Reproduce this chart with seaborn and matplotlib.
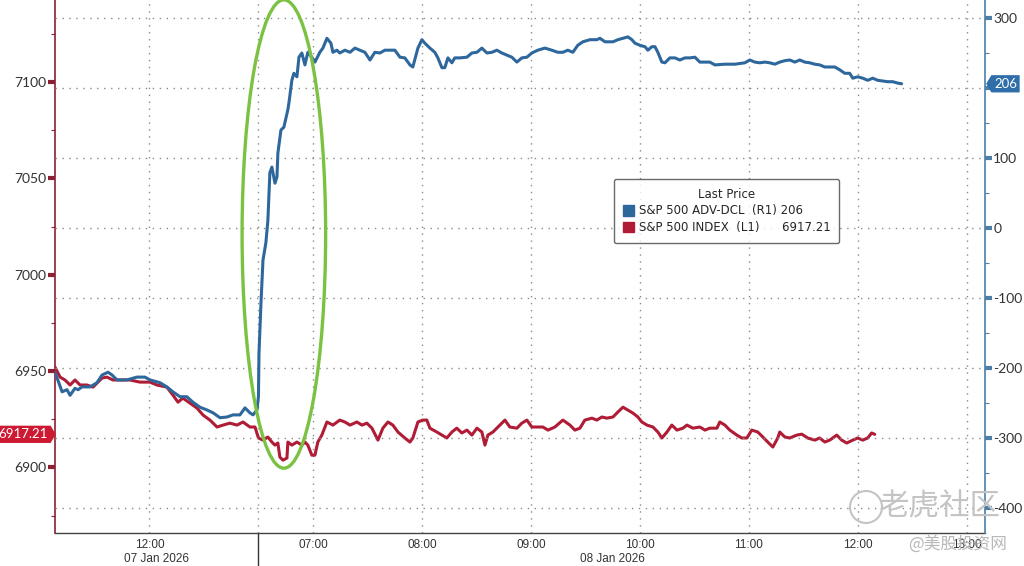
import matplotlib
matplotlib.use("Agg")
import matplotlib.pyplot as plt
import matplotlib.transforms as mtransforms
from matplotlib.patches import Ellipse, Patch
from matplotlib.path import Path
from matplotlib.ticker import FixedLocator, FixedFormatter, MultipleLocator
import pandas as pd
import seaborn as sns

# x = minutes from the overnight break (07 Jan 13:00 == 08 Jan 06:30 == 0)
ADV_MIN = [-112, -108.1, -105.4, -103.7, -101, -99.3, -97.1, -92.7, -88.9, -86.1,
           -82.8, -80.6, -77.9, -72.4, -66.9, -62.5, -59.7, -54.2, -50.4, -47.1,
           -43.2, -39.4, -36, -32.2, -28.3, -25, -21.2, -17.3, -14, -10.2,
           -7.4, -4.7, -3, -0.8,
           0, 0.3, 1.4, 2.5, 4.1, 5.2, 6.3, 7.4, 9.1, 10.2, 10.7, 12.4, 14, 16.2, 16.8,
           18.4, 19.5, 21.2, 22.3, 23.9, 25.6, 27.2, 29.4, 31.1, 33.8, 35.5, 37.7, 39.9,
           41, 43.2, 44.8, 47.6, 50.4, 53.1, 55.9, 58.6, 61.4, 64.1, 66.9, 69.6, 72.4,
           75.1, 77.9, 80.6, 83.4, 85, 87.8, 90, 91.6, 94.4, 97.1, 98.8, 101, 102.6,
           104.3, 106.5, 108.1, 110.9, 114.8, 117.5, 120.3, 123, 125.8, 128.5, 131.3,
           134, 136.8, 139.5, 142.3, 145, 147.8, 150.5, 153.8, 157.7, 161.5, 164.8,
           167.6, 170.3, 173.1, 175.8, 178.6, 182.5, 186.3, 188, 190.8, 195.2, 197.9,
           200.7, 203.4, 205.6, 207.3, 210, 212.8, 214.4, 216.6, 218.3, 219.9, 222.1,
           223.8, 226.5, 229.3, 232, 234.8, 237.5, 240.3, 243, 248.5, 251.3, 256.8,
           262.3, 267.8, 270.5, 273.3, 276, 278.8, 281.5, 284.3, 287, 289.8, 292.5,
           295.3, 298, 300.8, 303.5, 306.3, 309, 311.8, 317.3, 320, 322.8, 325.5,
           327.2, 329.9, 332.7, 335.4, 338.2, 340.9, 346.4, 349.2, 351.9, 354.1]
ADV_VAL = [-206, -234, -231, -239, -229, -231, -227, -227, -221, -210,
           -206, -210, -217, -217, -213, -213, -217, -221, -227, -234,
           -241, -241, -249, -256, -260, -264, -271, -270, -267, -267,
           -257, -264, -267, -260,
           -241, -179, -107, -46, -21, 11, 79, 87, 64, 73, 107, 140, 144, 169, 179,
           211, 221, 216, 244, 250, 233, 251, 244, 237, 251, 257, 271, 264,
           251, 254, 250, 254, 251, 257, 254, 251, 240, 251, 250, 254, 254,
           254, 244, 243, 233, 230, 257, 269, 264, 257, 251, 243, 229, 229,
           243, 236, 243, 243, 244, 250, 251, 257, 250, 251, 254,
           250, 247, 244, 237, 243, 244, 250, 254, 257, 254, 251,
           251, 254, 251, 261, 266, 269, 269, 271, 266, 266, 269,
           271, 273, 269, 264, 261, 259, 254, 259, 259, 251, 237,
           236, 243, 243, 240, 243, 243, 244, 237, 237, 233, 234,
           234, 236, 240, 237, 236, 237, 236, 234, 237, 239, 240,
           237, 240, 237, 236, 234, 233, 230, 230, 226, 221, 221,
           214, 216, 214, 211, 214, 211, 209, 209, 207, 206]

SPX_MIN = [-112, -109.2, -106.5, -103.7, -101, -98.2, -94.4, -91.1, -86.1, -83.4,
           -80.1, -76.2, -70.7, -65.2, -59.7, -55.9, -50.4, -47.1, -44.3, -41.6,
           -37.7, -33.8, -30.5, -26.7, -22.8, -19.5, -15.7, -11.8, -8.5, -4.7, -1.9,
           0, 2.5, 5.2, 7.4, 9.1, 10.7, 11.8, 13.5, 15.7, 16.2, 18.4, 21.2, 23.9, 25.6,
           27.2, 29.4, 31.1, 32.7, 34.9, 37.7, 41, 44.8, 47.6, 50.4, 54.2, 57, 59.7,
           62.5, 65.8, 68.5, 71.3, 74, 76.8, 80.6, 83.4, 85, 87.8, 90.5, 92.7, 94.4,
           98.2, 101, 103.7, 106.5, 109.2, 112, 114.8, 117.5, 120.3, 123, 124.7, 126.3,
           129.1, 132.9, 135.7, 138.4, 142.3, 145, 147.8, 150.5, 156.6, 159.4, 163.2,
           167.6, 171.5, 174.2, 177, 179.7, 183.6, 186.3, 189.1, 191.8, 195.2, 197.9,
           200.7, 203.4, 206.2, 208.9, 211.1, 213.9, 217.2, 219.9, 222.1, 224.9, 227.6,
           230.4, 233.7, 235.9, 239.2, 243, 245.8, 248.5, 252.4, 254, 256.8, 259.5,
           263.4, 266.1, 268.9, 271.6, 274.9, 277.7, 280.4, 283.2, 285.9, 287, 289.8,
           292.5, 296.4, 299.1, 302.4, 306.3, 309, 311.8, 314.5, 318.4, 321.1, 323.9,
           327.2, 329.9, 332.7, 335.4, 337.6, 339.3]
SPX_VAL = [6952.1, 6946.9, 6945.4, 6942.8, 6945.4, 6942.8, 6942.8, 6941.7, 6946.4, 6946.9,
           6945.4, 6945.4, 6945.4, 6944.3, 6944.3, 6942.8, 6941.7, 6937.6, 6933.9, 6936.0,
           6933.4, 6930.8, 6927.2, 6924.6, 6921.0, 6922.0, 6923.0, 6922.0, 6923.6, 6921.0, 6921.0,
           6915.3, 6914.2, 6915.8, 6913.2, 6911.6, 6912.7, 6905.4, 6903.8, 6904.9, 6913.2, 6911.6, 6913.2, 6911.6, 6913.2,
           6911.6, 6906.4, 6906.4, 6913.2, 6916.8, 6923.6, 6922.0, 6924.6, 6923.6, 6922.0, 6923.6, 6922.0, 6923.0,
           6920.4, 6914.2, 6920.4, 6923.6, 6922.0, 6918.4, 6915.3, 6913.2, 6915.3, 6923.6, 6924.6, 6924.6, 6920.4,
           6918.4, 6916.8, 6915.3, 6918.4, 6920.4, 6917.9, 6919.4, 6916.8, 6920.4, 6918.4, 6911.6, 6916.8,
           6918.4, 6922.0, 6924.6, 6921.0, 6920.4, 6923.0, 6924.6, 6921.0, 6921.0, 6919.4, 6921.0,
           6924.6, 6922.0, 6919.4, 6920.4, 6924.6, 6925.6, 6924.6, 6926.2, 6925.6, 6926.2, 6928.8,
           6931.3, 6929.8, 6928.2, 6926.2, 6923.6, 6922.0, 6921.0, 6918.4, 6915.3, 6918.4, 6922.0,
           6919.4, 6920.4, 6922.0, 6920.4, 6921.0, 6919.4, 6920.4, 6920.4, 6923.6, 6922.0, 6919.4,
           6916.8, 6915.3, 6915.3, 6919.4, 6918.4, 6915.8, 6913.2, 6910.6, 6915.3, 6918.4, 6915.8,
           6915.3, 6916.8, 6917.3, 6915.3, 6914.2, 6915.3, 6913.2, 6914.2, 6916.8, 6914.2, 6912.7,
           6914.2, 6915.3, 6914.2, 6915.3, 6917.9, 6917.21]

DAY1_CLOSE = "13:00"
DAY2_OPEN = "06:30"
DAY1_HOURS = ["12:00"]
DAY2_HOURS = ["07:00", "08:00", "09:00", "10:00", "11:00", "12:00", "13:00"]
DAY1_HALVES = ["11:30", "12:30"]
DAY2_HALVES = ["07:30", "08:30", "09:30", "10:30", "11:30", "12:30"]
DATE_LABELS = ["07 Jan 2026", "08 Jan 2026"]
SERIES_NAMES = ["S&P 500 ADV-DCL  (R1)", "S&P 500 INDEX  (L1)"]
LEFT_TICKS = [6900, 6950, 7000, 7050, 7100]
RIGHT_TICKS = [-400, -300, -200, -100, 0, 100, 200, 300]

BLUE = "#2d679c"
RED = "#b01c36"
RED_AX = "#8c1f33"
BLUE_AX = "#4d7fa8"
GREEN = "#7cc242"
GRID = "#8a8a8a"


def to_x(day, hhmm):
    h, m = map(int, hhmm.split(":"))
    ref = DAY1_CLOSE if day == 1 else DAY2_OPEN
    rh, rm = map(int, ref.split(":"))
    return (h * 60 + m) - (rh * 60 + rm)


def tag_style(point):
    def style(x0, y0, width, height, mutation_size):
        pad = 0.2 * mutation_size
        x0, y0 = x0 - pad, y0 - pad
        x1, y1 = x0 + width + 2 * pad, y0 + height + 2 * pad
        tip = 0.3 * (y1 - y0)
        ym = (y0 + y1) / 2
        if point == "right":
            verts = [(x0, y0), (x1, y0), (x1 + tip, ym), (x1, y1), (x0, y1), (x0, y0)]
        else:
            verts = [(x0, y0), (x1, y0), (x1, y1), (x0, y1), (x0 - tip, ym), (x0, y0)]
        return Path(verts, closed=True)
    return style


sns.set_theme(style="white")
plt.rcParams["font.family"] = ["Lato", "Noto Sans CJK SC", "DejaVu Sans"]
plt.rcParams["axes.unicode_minus"] = False

adv = pd.DataFrame({"minute": ADV_MIN, "adv_dcl": ADV_VAL})
spx = pd.DataFrame({"minute": SPX_MIN, "index": SPX_VAL})

fig = plt.figure(figsize=(10.24, 5.66), dpi=100)
ax = fig.add_axes([55 / 1024, 33 / 566, 930 / 1024, 533 / 566])

sns.lineplot(data=spx, x="minute", y="index", ax=ax, color=RED, linewidth=2.2,
             estimator=None, sort=False, legend=False, zorder=3)
ax2 = ax.twinx()
sns.lineplot(data=adv, x="minute", y="adv_dcl", ax=ax2, color=BLUE, linewidth=2.2,
             estimator=None, sort=False, legend=False, zorder=3)

brk = to_x(1, DAY1_CLOSE)
day1_start = ADV_MIN[0]
day2_end = to_x(2, DAY2_HOURS[-1]) + 10
ax.set_xlim(day1_start, day2_end)
ax.set_ylim(6866, 7142.6)
ax2.set_ylim(-435.7, 325.7)

# x axis: hours + day break as majors, half hours as minors
major_pos = [to_x(1, t) for t in DAY1_HOURS] + [brk] + [to_x(2, t) for t in DAY2_HOURS]
major_lab = DAY1_HOURS + [""] + DAY2_HOURS
ax.xaxis.set_major_locator(FixedLocator(major_pos))
ax.xaxis.set_major_formatter(FixedFormatter(major_lab))
ax.xaxis.set_minor_locator(FixedLocator([to_x(1, t) for t in DAY1_HALVES] +
                                        [to_x(2, t) for t in DAY2_HALVES]))
ax.tick_params(axis="x", which="major", length=0, pad=4, labelsize=8.5,
               labelcolor="#333333", labelfontfamily="Liberation Sans")
ax.tick_params(axis="x", which="minor", direction="out", length=4, width=0.8, color="#555555")

ax.set_yticks(LEFT_TICKS)
ax.yaxis.set_minor_locator(MultipleLocator(25))
ax.tick_params(axis="y", which="major", direction="out", length=5, width=3,
               color=RED_AX, labelsize=10, labelcolor="#333333", pad=1)
ax.tick_params(axis="y", which="minor", direction="out", length=3, width=0.8, color=RED_AX)

# the right-axis label hidden under the last-value tag is left blank
ax2.set_yticks(RIGHT_TICKS)
ax2.set_yticklabels(["" if abs(v - ADV_VAL[-1]) < 30 else str(v) for v in RIGHT_TICKS])
ax2.yaxis.set_minor_locator(MultipleLocator(50))
ax2.tick_params(axis="y", which="major", direction="out", length=5, width=3,
                color=BLUE_AX, labelsize=10, labelcolor="#333333", pad=1)
ax2.tick_params(axis="y", which="minor", direction="out", length=3, width=0.8, color=BLUE_AX)

for a in (ax, ax2):
    a.set_xlabel("")
    a.set_ylabel("")
    a.spines["top"].set_visible(False)
ax.spines["right"].set_visible(False)
ax2.spines["left"].set_visible(False)
ax2.spines["bottom"].set_visible(False)
ax.spines["left"].set_color(RED_AX)
ax.spines["left"].set_linewidth(1.2)
ax2.spines["right"].set_color(BLUE_AX)
ax2.spines["right"].set_linewidth(1.2)
ax.spines["bottom"].set_color("#444444")
ax.spines["bottom"].set_linewidth(1.0)

ax.grid(axis="x", which="major", color=GRID, linestyle=(0, (1, 4)), linewidth=1)
ax.grid(axis="y", visible=False)
ax2.grid(axis="y", which="major", color=GRID, linestyle=(0, (1, 4)), linewidth=1)
ax2.grid(axis="x", visible=False)

# date row and day separator under the axis
xa = mtransforms.blended_transform_factory(ax.transData, ax.transAxes)
ax.plot([brk, brk], [0, -0.07], transform=xa, color="#333333", lw=1, clip_on=False)
for lab, (lo, hi) in zip(DATE_LABELS, [(day1_start, brk), (brk, to_x(2, DAY2_HOURS[-1]))]):
    ax.annotate(lab, xy=((lo + hi) / 2, 0), xycoords=xa, xytext=(0, -26),
                textcoords="offset pixels", ha="center", va="center", fontsize=8.5,
                color="#333333", family="Liberation Sans")

# last-value tags on the axes
ax.annotate(f"{SPX_VAL[-1]:.2f}", xy=(0, SPX_VAL[-1]),
            xycoords=("axes fraction", "data"), xytext=(-7, 0), textcoords="offset pixels",
            ha="right", va="center", color="white", fontsize=9.5, annotation_clip=False,
            bbox=dict(boxstyle=tag_style("right"), fc="#cc1a33", ec="none"), zorder=10)
ax2.annotate(f"{ADV_VAL[-1]:.0f}", xy=(1, ADV_VAL[-1]),
             xycoords=("axes fraction", "data"), xytext=(9, 0), textcoords="offset pixels",
             ha="left", va="center", color="white", fontsize=9.5, annotation_clip=False,
             bbox=dict(boxstyle=tag_style("left"), fc="#2f6ea8", ec="none"), zorder=10)

# green highlight around the breadth surge
ax2.add_patch(Ellipse((14, -8.6), width=46, height=669, fill=False,
                      edgecolor=GREEN, linewidth=2.4, zorder=5))

handles = [Patch(facecolor=BLUE, edgecolor=BLUE), Patch(facecolor=RED, edgecolor=RED)]
labels = [f"{SERIES_NAMES[0]} {ADV_VAL[-1]:.0f}",
          f"{SERIES_NAMES[1]}      {SPX_VAL[-1]:.2f}"]
leg = ax2.legend(handles, labels, title="Last Price", loc="upper left",
                 bbox_to_anchor=(0.601, 0.664), frameon=True, fancybox=True,
                 prop={"family": "DejaVu Sans", "size": 8.5}, title_fontsize=8.5,
                 handlelength=0.95, handleheight=0.95, handletextpad=0.4,
                 borderpad=0.75, labelspacing=0.3, borderaxespad=0)
leg.get_title().set_family("DejaVu Sans")
leg.get_frame().set_edgecolor("#444444")
leg.get_frame().set_linewidth(1.0)
leg.set_zorder(20)

# watermark
fig.text(0.918, 0.104, "老虎社区", fontsize=22, color="#c4c4c4", ha="center", va="center",
         family=["Noto Sans CJK SC", "DejaVu Sans"], zorder=30)
fig.text(0.935, 0.038, "@美股投资网", fontsize=12, color="#b8b8b8", ha="center", va="center",
         family=["Noto Sans CJK SC", "DejaVu Sans"], zorder=30)
fig.add_artist(Ellipse((866 / 1024, 1 - 507 / 566), 32 / 1024, 32 / 566,
                       transform=fig.transFigure, fill=False, edgecolor="#c4c4c4",
                       linewidth=1.5))

fig.savefig("out.png", dpi=100)
